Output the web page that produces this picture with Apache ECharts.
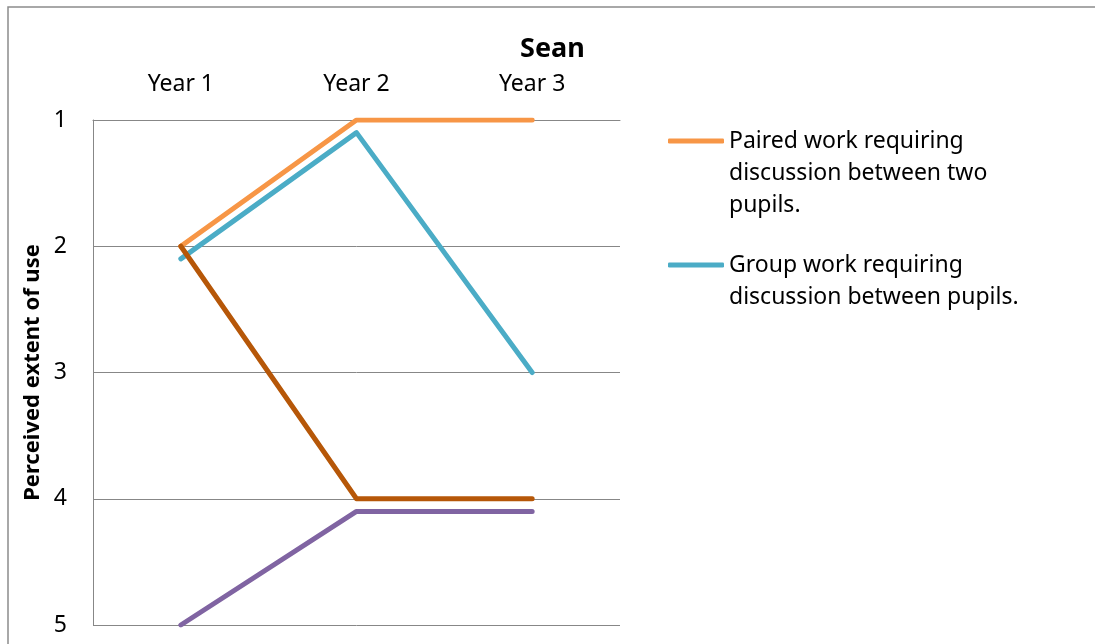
<!DOCTYPE html>
<html>
<head>
<meta charset="utf-8">
<script src="https://cdn.jsdelivr.net/npm/echarts@6/dist/echarts.min.js"></script>
<style>
  html, body { margin: 0; padding: 0; background: #fff; }
  #chart { width: 1095px; height: 644px; }
</style>
</head>
<body>
<div id="chart"></div>
<script>
// chart data
const years = ['Year 1', 'Year 2', 'Year 3']
const yTicks = [1, 2, 3, 4, 5]
const seriesNames = [
  'Paired work requiring discussion between two pupils.',
  'Group work requiring discussion between pupils.',
  'Series 3',
  'Series 4',
]
const legendLabels = [
  'Paired work requiring\ndiscussion between two\npupils.',
  'Group work requiring\ndiscussion between pupils.',
]
const pairedValues = [2, 1, 1]
const groupValues = [2.1, 1.1, 3]
const series3Values = [2, 4, 4]
const series4Values = [5, 4.1, 4.1]

const colors = ['#F79646', '#4BACC6', '#B65708', '#8064A2']
const fontFamily = '"Noto Sans", "Open Sans", sans-serif'
const gridColor = '#878787'

const chart = echarts.init(document.getElementById('chart'))

const lineSeries = (name, data, color) => ({
  name,
  type: 'line',
  data,
  showSymbol: false,
  symbol: 'none',
  color,
  lineStyle: { color, width: 5, cap: 'round', join: 'round' },
  emphasis: { disabled: true },
  animation: false,
})

// legend text is centred on its icon, so pad with blank lines on top
// until the first line of the label sits level with the icon
const legendFor = (idx, top) => {
  const lines = legendLabels[idx].split('\n').length
  const pad = '\n'.repeat(lines - 1)
  return {
    orient: 'vertical',
    left: 668,
    top,
    padding: 0,
    icon: 'roundRect',
    itemWidth: 56,
    itemHeight: 5,
    selectedMode: false,
    data: [seriesNames[idx]],
    formatter: () => pad + legendLabels[idx],
    textStyle: { color: '#000', fontSize: 23, lineHeight: 32, fontFamily },
  }
}

chart.setOption({
  animation: false,
  textStyle: { fontFamily },
  title: {
    text: 'Sean',
    left: 515,
    top: 31,
    textStyle: { color: '#000', fontSize: 27, fontWeight: 'bold', fontFamily },
  },
  graphic: [{
    type: 'rect',
    shape: { x: 8, y: 7, width: 1200, height: 700 },
    style: { fill: 'none', stroke: '#8c8c8c', lineWidth: 1.5 },
    silent: true,
  }],
  legend: [legendFor(0, 61), legendFor(1, 217)],
  grid: { left: 93, right: 475, top: 120, bottom: 19 },
  xAxis: {
    type: 'category',
    position: 'top',
    data: years,
    boundaryGap: true,
    axisLine: { show: true, lineStyle: { color: gridColor, width: 1 } },
    axisTick: { show: false },
    axisLabel: { color: '#000', fontSize: 23, margin: 24, fontFamily },
  },
  yAxis: {
    type: 'value',
    inverse: true,
    min: yTicks[0],
    max: yTicks[yTicks.length - 1],
    interval: 1,
    name: 'Perceived extent of use',
    nameLocation: 'middle',
    nameRotate: 90,
    nameGap: 49,
    nameTextStyle: { color: '#000', fontSize: 22, fontWeight: 'bold', fontFamily },
    axisLine: { show: true, lineStyle: { color: gridColor, width: 1 } },
    axisTick: { show: false },
    splitLine: { lineStyle: { color: gridColor, width: 1 } },
    axisLabel: { color: '#000', fontSize: 23, margin: 26, fontFamily },
  },
  series: [
    lineSeries(seriesNames[0], pairedValues, colors[0]),
    lineSeries(seriesNames[1], groupValues, colors[1]),
    lineSeries(seriesNames[2], series3Values, colors[2]),
    lineSeries(seriesNames[3], series4Values, colors[3]),
  ],
})
</script>
</body>
</html>
